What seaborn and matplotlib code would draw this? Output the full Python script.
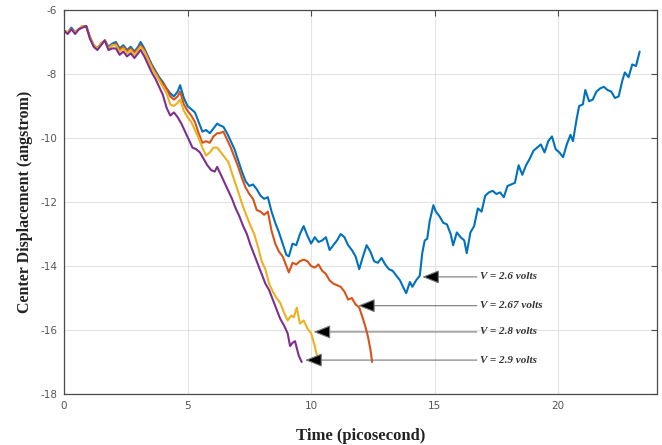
import numpy as np
import pandas as pd
import matplotlib
matplotlib.use("Agg")
import matplotlib.pyplot as plt
import seaborn as sns

# ---------------- data ----------------
t_26 = [0, 0.15, 0.3, 0.45, 0.6, 0.75, 0.9, 1.05, 1.2, 1.35, 1.5, 1.65, 1.8, 1.95, 2.1, 2.25, 2.4, 2.55, 2.7, 2.85,
        3.0, 3.1, 3.25, 3.4, 3.55, 3.7, 3.85, 4.0, 4.15, 4.3, 4.45, 4.6, 4.7, 4.85, 5.0, 5.15, 5.3, 5.45, 5.6, 5.75,
        5.9, 6.05, 6.2, 6.3, 6.45, 6.6, 6.75, 6.9, 7.05, 7.2, 7.35, 7.5, 7.65, 7.8, 7.95, 8.1, 8.25, 8.4, 8.55, 8.7,
        8.85, 9.0, 9.1, 9.25, 9.4, 9.55, 9.7, 9.85, 10.0, 10.15, 10.3, 10.45, 10.6, 10.75, 10.9, 11.05, 11.2, 11.35,
        11.5, 11.65, 11.8, 11.95, 12.1, 12.25, 12.4, 12.55, 12.7, 12.85, 13.0, 13.15, 13.3, 13.45, 13.6, 13.75, 13.85,
        14.0, 14.1, 14.25, 14.4, 14.5, 14.6, 14.7, 14.8, 14.95, 15.05, 15.2, 15.35, 15.5, 15.65, 15.75, 15.9, 16.05,
        16.2, 16.3, 16.45, 16.6, 16.75, 16.9, 17.05, 17.2, 17.35, 17.5, 17.65, 17.8, 17.95, 18.1, 18.25, 18.4, 18.55,
        18.7, 18.85, 19.0, 19.15, 19.3, 19.45, 19.6, 19.75, 19.9, 20.05, 20.2, 20.35, 20.5, 20.6, 20.75, 20.85, 21.0,
        21.1, 21.25, 21.4, 21.55, 21.7, 21.85, 22.0, 22.15, 22.3, 22.45, 22.6, 22.7, 22.85, 23.0, 23.15, 23.3]
y_26 = [-6.65, -6.7, -6.55, -6.7, -6.6, -6.5, -6.5, -6.85, -7.1, -7.2, -7.05, -6.95, -7.15, -7.05, -7.0, -7.2, -7.1,
        -7.25, -7.15, -7.3, -7.15, -7.0, -7.2, -7.45, -7.7, -7.9, -8.1, -8.25, -8.45, -8.6, -8.7, -8.55, -8.35, -8.75,
        -9.0, -9.1, -9.2, -9.5, -9.8, -9.75, -9.85, -9.7, -9.55, -9.6, -9.65, -9.85, -10.1, -10.35, -10.7, -11.05,
        -11.35, -11.5, -11.45, -11.6, -11.8, -11.9, -11.85, -12.3, -12.65, -12.95, -13.3, -13.65, -13.7, -13.3, -13.35,
        -13.0, -12.75, -13.05, -13.3, -13.1, -13.25, -13.2, -13.1, -13.5, -13.35, -13.2, -13.0, -13.1, -13.35, -13.5,
        -13.7, -14.1, -13.7, -13.35, -13.55, -13.85, -13.9, -13.75, -13.95, -14.1, -14.15, -14.3, -14.45, -14.7,
        -14.85, -14.5, -14.65, -14.45, -14.3, -13.6, -13.2, -13.15, -12.6, -12.1, -12.3, -12.45, -12.65, -12.7, -13.0,
        -13.35, -12.95, -13.1, -13.2, -13.6, -12.95, -12.75, -12.2, -12.3, -11.8, -11.7, -11.65, -11.75, -11.7,
        -11.85, -11.5, -11.45, -11.4, -10.85, -11.15, -10.85, -10.65, -10.4, -10.3, -10.2, -10.45, -10.1, -9.95,
        -10.35, -10.45, -10.6, -10.2, -9.9, -10.1, -9.4, -9.0, -8.95, -8.5, -8.85, -8.8, -8.55, -8.45, -8.4, -8.5,
        -8.55, -8.75, -8.7, -8.2, -7.95, -8.1, -7.7, -7.75, -7.3]

t_267 = [0, 0.15, 0.3, 0.45, 0.6, 0.75, 0.9, 1.05, 1.2, 1.35, 1.5, 1.65, 1.8, 1.95, 2.1, 2.25, 2.4, 2.55, 2.7, 2.85,
         3.0, 3.1, 3.25, 3.4, 3.55, 3.7, 3.85, 4.0, 4.15, 4.3, 4.45, 4.6, 4.7, 4.85, 5.0, 5.15, 5.3, 5.45, 5.6, 5.75,
         5.9, 6.05, 6.2, 6.3, 6.45, 6.6, 6.75, 6.9, 7.05, 7.2, 7.35, 7.5, 7.65, 7.8, 7.95, 8.1, 8.25, 8.4, 8.55, 8.7,
         8.85, 9.0, 9.1, 9.25, 9.4, 9.55, 9.7, 9.85, 10.0, 10.15, 10.3, 10.45, 10.6, 10.75, 10.9, 11.05, 11.2, 11.35,
         11.5, 11.65, 11.8, 11.95, 12.1, 12.2, 12.3, 12.4, 12.47]
y_267 = [-6.65, -6.7, -6.6, -6.7, -6.6, -6.5, -6.52, -6.85, -7.1, -7.2, -7.05, -6.95, -7.2, -7.1, -7.05, -7.25, -7.15,
         -7.3, -7.2, -7.35, -7.2, -7.1, -7.25, -7.5, -7.75, -7.95, -8.15, -8.3, -8.45, -8.7, -8.8, -8.7, -8.55, -8.95,
         -9.15, -9.3, -9.5, -9.85, -10.15, -10.1, -10.15, -9.95, -9.85, -9.85, -9.8, -10.05, -10.3, -10.6, -10.9,
         -11.25, -11.55, -11.75, -11.9, -12.25, -12.3, -12.4, -12.3, -12.9, -13.3, -13.55, -13.7, -14.0, -14.2, -13.9,
         -13.95, -13.85, -13.8, -13.85, -14.0, -14.05, -13.95, -14.15, -14.25, -14.45, -14.55, -14.6, -14.65, -14.8,
         -15.05, -15.0, -15.2, -15.3, -15.65, -15.9, -16.2, -16.6, -17.0]

t_28 = [0, 0.15, 0.3, 0.45, 0.6, 0.75, 0.9, 1.05, 1.2, 1.35, 1.5, 1.65, 1.8, 1.95, 2.1, 2.25, 2.4, 2.55, 2.7, 2.85,
        3.0, 3.1, 3.25, 3.4, 3.55, 3.7, 3.85, 4.0, 4.15, 4.3, 4.45, 4.6, 4.7, 4.85, 5.0, 5.15, 5.3, 5.45, 5.6, 5.75,
        5.9, 6.05, 6.2, 6.35, 6.5, 6.65, 6.8, 6.95, 7.1, 7.25, 7.4, 7.55, 7.7, 7.85, 8.0, 8.15, 8.3, 8.45, 8.6, 8.75,
        8.9, 9.05, 9.2, 9.3, 9.42, 9.55, 9.7, 9.85, 10.0, 10.15, 10.3]
y_28 = [-6.65, -6.7, -6.6, -6.7, -6.6, -6.5, -6.52, -6.85, -7.1, -7.2, -7.05, -6.95, -7.2, -7.1, -7.1, -7.3, -7.2,
        -7.35, -7.25, -7.4, -7.25, -7.15, -7.3, -7.55, -7.8, -8.0, -8.2, -8.4, -8.6, -8.95, -9.0, -8.9, -8.8, -9.15,
        -9.35, -9.5, -9.75, -10.0, -10.3, -10.55, -10.45, -10.3, -10.3, -10.45, -10.6, -10.75, -11.1, -11.45, -11.8,
        -12.15, -12.45, -12.75, -13.0, -13.4, -13.85, -14.1, -14.55, -14.8, -15.0, -15.15, -15.45, -15.7, -15.55,
        -15.6, -15.3, -15.8, -15.7, -15.95, -16.1, -16.5, -17.0]

t_29 = [0, 0.15, 0.3, 0.45, 0.6, 0.75, 0.9, 1.05, 1.2, 1.35, 1.5, 1.65, 1.8, 1.95, 2.1, 2.25, 2.4, 2.55, 2.7, 2.85,
        3.0, 3.1, 3.25, 3.4, 3.55, 3.7, 3.85, 4.0, 4.15, 4.3, 4.45, 4.6, 4.75, 4.9, 5.05, 5.2, 5.35, 5.5, 5.65, 5.8,
        5.95, 6.1, 6.2, 6.35, 6.5, 6.65, 6.8, 6.95, 7.1, 7.25, 7.4, 7.55, 7.7, 7.85, 8.0, 8.15, 8.3, 8.45, 8.6, 8.75,
        8.9, 9.05, 9.15, 9.25, 9.35, 9.5, 9.62]
y_29 = [-6.65, -6.75, -6.6, -6.75, -6.6, -6.55, -6.5, -6.9, -7.15, -7.25, -7.1, -6.95, -7.25, -7.2, -7.2, -7.4, -7.3,
        -7.45, -7.35, -7.5, -7.35, -7.25, -7.45, -7.7, -7.95, -8.15, -8.4, -8.65, -9.05, -9.3, -9.2, -9.35, -9.55,
        -9.8, -10.05, -10.3, -10.35, -10.45, -10.65, -10.85, -11.0, -11.05, -10.9, -11.15, -11.4, -11.65, -11.9,
        -12.2, -12.45, -12.75, -13.0, -13.35, -13.65, -13.95, -14.25, -14.55, -14.75, -15.05, -15.35, -15.65, -15.85,
        -16.1, -16.5, -16.4, -16.35, -16.8, -17.0]

series_names = ["V = 2.6 volts", "V = 2.67 volts", "V = 2.8 volts", "V = 2.9 volts"]
line_colors = ["#0072BD", "#D95319", "#EDB120", "#7E2F8E"]
arrow_tip_x = [14.5, 11.9, 10.1, 9.76]
label_y = [-14.34, -15.24, -16.06, -16.94]
label_x = 16.84

x_ticks = [0, 5, 10, 15, 20]
y_ticks = [-18, -16, -14, -12, -10, -8, -6]

# ---------------- build frame ----------------
frames = []
for name, t, y in zip(series_names, [t_26, t_267, t_28, t_29], [y_26, y_267, y_28, y_29]):
    frames.append(pd.DataFrame({"time": t, "disp": y, "series": name}))
df = pd.concat(frames, ignore_index=True)

sns.set_style("white")
plt.rcParams["font.family"] = ["DejaVu Sans"]

fig = plt.figure(figsize=(6.62, 4.45), dpi=100)
ax = fig.add_axes([0.0967, 0.1146, 0.8957, 0.8629])

sns.lineplot(data=df, x="time", y="disp", hue="series", palette=dict(zip(series_names, line_colors)),
             hue_order=series_names, sort=False, estimator=None, lw=1.5, legend=False, ax=ax)

ax.set_xlim(0, 24)
ax.set_ylim(-18, -6)
ax.set_xticks(x_ticks)
ax.set_yticks(y_ticks)
ax.set_xticklabels([str(v) for v in x_ticks])
ax.set_yticklabels([str(v) for v in y_ticks])
ax.grid(True, color="#e3e3e3", lw=0.8)
ax.set_axisbelow(True)
for sp in ax.spines.values():
    sp.set_color("#4a4a4a")
    sp.set_linewidth(0.9)
ax.tick_params(direction="in", length=4, width=0.8, color="#4a4a4a", top=True, right=True,
               labelsize=7.5, labelcolor="#555555", pad=5)

ax.set_xlabel("Time (picosecond)", family="Liberation Serif", fontweight="bold", fontsize=12,
              color="#222222", labelpad=12)
ax.set_ylabel("Center Displacement (angstrom)", family="Liberation Serif", fontweight="bold", fontsize=11.5,
              color="#222222", labelpad=5)

for name, tip, yy in zip(series_names, arrow_tip_x, label_y):
    ax.annotate(name, xy=(tip, yy), xytext=(label_x, yy), ha="left", va="center",
                family="Liberation Serif", fontweight="bold", fontstyle="italic", fontsize=8, color="#333333",
                arrowprops=dict(arrowstyle="-|>,head_length=0.7,head_width=0.28", mutation_scale=15,
                                fc="black", ec="#777777", lw=0.8, shrinkA=0, shrinkB=0))

fig.savefig("out.png", dpi=100)
